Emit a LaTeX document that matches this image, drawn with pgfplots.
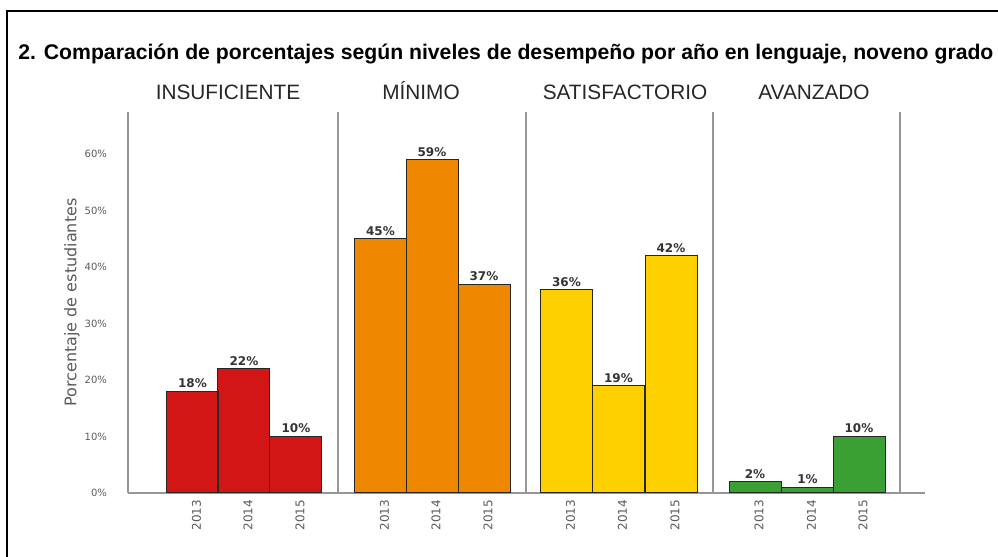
\documentclass[border=0pt]{standalone}
\usepackage{fontspec}
\setmainfont{Liberation Sans}
\newfontfamily\dejavu{DejaVu Sans}
\usepackage{pgfplots}
\pgfplotsset{compat=1.18}
\definecolor{cred}{RGB}{210,22,22}
\definecolor{corange}{RGB}{240,135,0}
\definecolor{cyellow}{RGB}{255,208,0}
\definecolor{cgreen}{RGB}{58,160,52}
\definecolor{axgray}{RGB}{150,150,150}
\definecolor{txtgray}{RGB}{90,90,90}
\begin{document}
\begin{tikzpicture}
\begin{axis}[
  at={(64pt,32pt)}, anchor=south west,
  scale only axis, width=398.5pt, height=190.5pt,
  xmin=128, xmax=925, ymin=0, ymax=67.5,
  axis x line=bottom, axis y line=left,
  axis line style={draw=axgray, line width=0.7pt, -},
  bar width=52,
  ytick={0,10,...,60},
  yticklabel={\pgfmathprintnumber{\tick}\%},
  xtick={192.5,244,296,380.5,432,484,566.5,618.5,671,755,807.5,859},
  xticklabels={2013,2014,2015,2013,2014,2015,2013,2014,2015,2013,2014,2015},
  major tick length=0pt,
  /pgf/number format/assume math mode=true,
  tick label style={font=\dejavu\fontsize{5}{6}\selectfont, text=txtgray},
  yticklabel style={xshift=-7pt},
  xticklabel style={rotate=90, anchor=east, yshift=-2pt, font=\dejavu\fontsize{6}{7}\selectfont},
  ylabel={Porcentaje de estudiantes},
  ylabel style={at={(axis description cs:-0.0703,0.5)}, anchor=center, rotate=0, font=\dejavu\fontsize{8}{9}\selectfont, text=txtgray},
  nodes near coords={\pgfmathprintnumber{\pgfplotspointmeta}\%},
  every node near coord/.append style={font=\dejavu\bfseries\fontsize{6}{7}\selectfont, text=black!80, anchor=south, inner sep=1.5pt},
  clip=false,
]
\addplot[ybar, bar shift=0pt, fill=cred, draw=black!85, line width=0.5pt] coordinates {(192.5,18) (244,22) (296,10)};
\addplot[ybar, bar shift=0pt, fill=corange, draw=black!85, line width=0.5pt] coordinates {(380.5,45) (432,59) (484,37)};
\addplot[ybar, bar shift=0pt, fill=cyellow, draw=black!85, line width=0.5pt] coordinates {(566.5,36) (618.5,19) (671,42)};
\addplot[ybar, bar shift=0pt, fill=cgreen, draw=black!85, line width=0.5pt] coordinates {(755,2) (807.5,1) (859,10)};
\draw[axgray, line width=0.7pt] (axis cs:338,0) -- (axis cs:338,67.5);
\draw[axgray, line width=0.7pt] (axis cs:526,0) -- (axis cs:526,67.5);
\draw[axgray, line width=0.7pt] (axis cs:713,0) -- (axis cs:713,67.5);
\draw[axgray, line width=0.7pt] (axis cs:900,0) -- (axis cs:900,67.5);
\end{axis}
\node[anchor=base west, inner sep=0pt, font=\bfseries\fontsize{10.6}{12}\selectfont] at (9pt,248.5pt) {2. Comparación de porcentajes según niveles de desempeño por año en lenguaje, noveno grado};
\node[anchor=base, inner sep=0pt, text=black!85, font=\fontsize{10.4}{12}\selectfont] at (114pt,228.5pt) {INSUFICIENTE};
\node[anchor=base, inner sep=0pt, text=black!85, font=\fontsize{10.4}{12}\selectfont] at (210.5pt,228.5pt) {MÍNIMO};
\node[anchor=base, inner sep=0pt, text=black!85, font=\fontsize{10.4}{12}\selectfont] at (312.5pt,228.5pt) {SATISFACTORIO};
\node[anchor=base, inner sep=0pt, text=black!85, font=\fontsize{10.4}{12}\selectfont] at (407pt,228.5pt) {AVANZADO};
\draw[line width=1pt] (3.5pt,-5pt) -- (3.5pt,273pt) -- (505pt,273pt);
\pgfresetboundingbox
\useasboundingbox (0pt,0pt) rectangle (499pt,278.5pt);
\end{tikzpicture}
\end{document}
